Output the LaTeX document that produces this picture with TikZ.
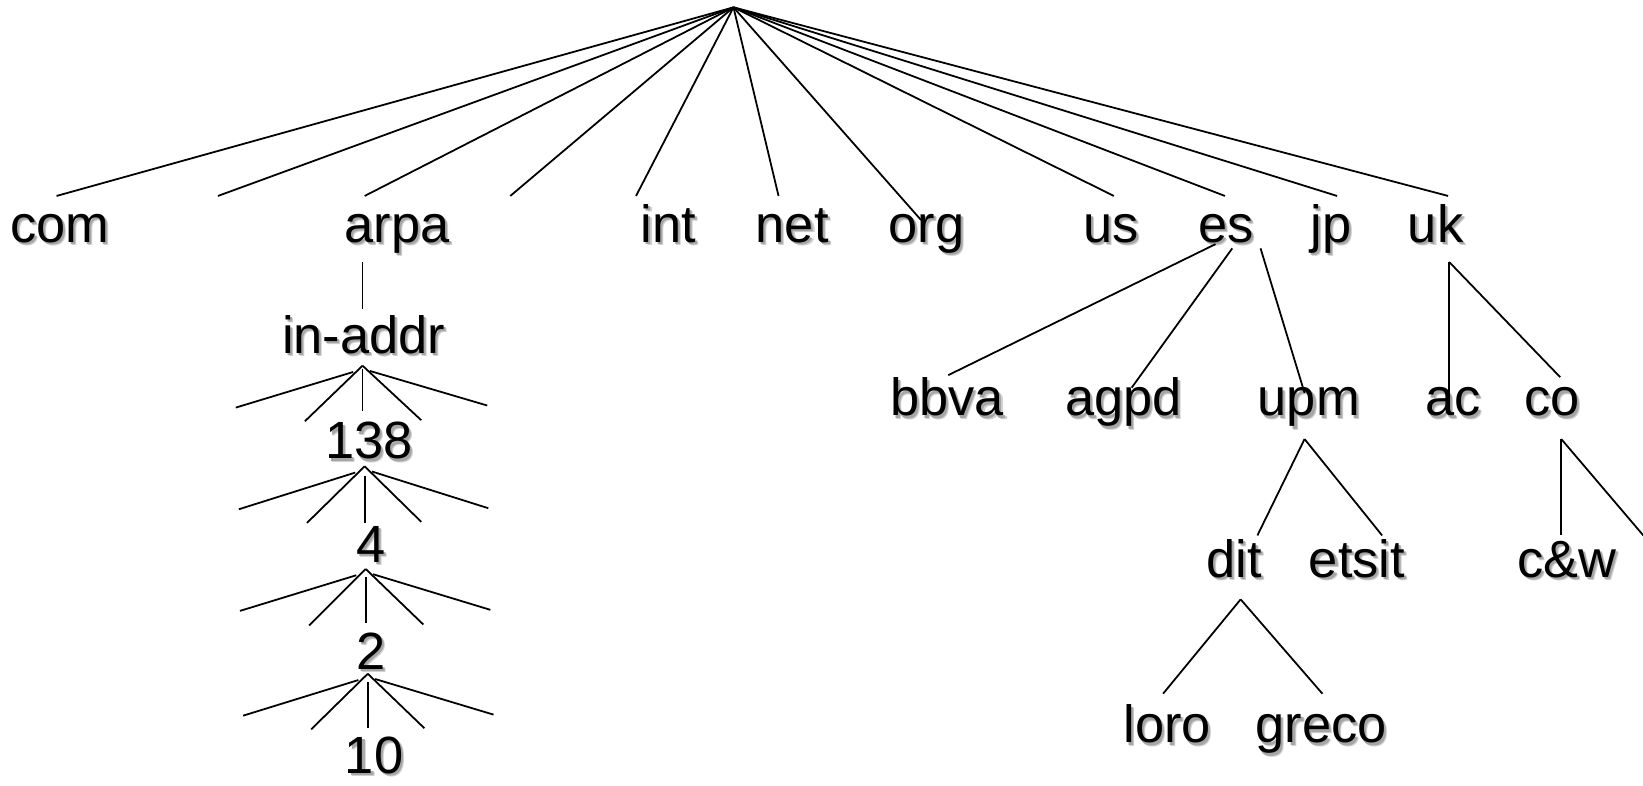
\documentclass[tikz,border=0pt]{standalone}
\usepackage{fontspec}
\setmainfont{Liberation Sans}
\usetikzlibrary{calc}
% text with a soft grey drop shadow (two layers for a slight blur)
\newcommand\shd[1]{%
  \rlap{\kern1.5pt\raisebox{-1.5pt}{\textcolor{black!18}{#1}}}%
  \rlap{\kern1.0pt\raisebox{-1.0pt}{\textcolor{black!35}{#1}}}#1}
\begin{document}
\begin{tikzpicture}[x=0.5pt,y=-0.5pt,
  lbl/.style={anchor=base,inner sep=0pt,font=\fontsize{25}{30}\selectfont},
  edge/.style={line width=0.85pt}]
\useasboundingbox (0,0) rectangle (1568,750);

% ---------- labels ----------
\node[lbl] (com)  at (57,231)   {\shd{com}};
\node[lbl] (arpa) at (379,231)  {\shd{arpa}};
\node[lbl] (int)  at (638,231)  {\shd{int}};
\node[lbl] (net)  at (756,231)  {\shd{net}};
\node[lbl] (org)  at (884,231)  {\shd{org}};
\node[lbl] (us)   at (1060,231) {\shd{us}};
\node[lbl] (es)   at (1170,231) {\shd{es}};
\node[lbl] (jp)   at (1270,231) {\shd{jp}};
\node[lbl] (uk)   at (1370,231) {\shd{uk}};

\node[lbl] (inaddr) at (347,337) {\shd{in-addr}};
\node[lbl] (n138)   at (352,438) {\shd{138}};
\node[lbl] (n4)     at (354,537) {\shd{4}};
\node[lbl] (n2)     at (354,639) {\shd{2}};
\node[lbl] (n10)    at (357,738) {\shd{10}};

\node[lbl] (bbva)  at (904,397)  {\shd{bbva}};
\node[lbl] (agpd)  at (1072,397) {\shd{agpd}};
\node[lbl] (upm)   at (1249,397) {\shd{upm}};
\node[lbl] (ac)    at (1387,397) {\shd{ac}};
\node[lbl] (co)    at (1481,397) {\shd{co}};
\node[lbl] (dit)   at (1178,551) {\shd{dit}};
\node[lbl] (etsit) at (1295,551) {\shd{etsit}};
\node[lbl] (cw)    at (1495,551) {\shd{c\&w}};
\node[lbl] (loro)  at (1114,709) {\shd{loro}};
\node[lbl] (greco) at (1261,709) {\shd{greco}};

% ---------- top level ----------
\coordinate (root) at (700,7);
\coordinate (tcom)  at (54,187);
\coordinate (tx1)   at (208,187);
\coordinate (tarpa) at (348,187);
\coordinate (tx2)   at (487,187);
\coordinate (tint)  at (607,187);
\coordinate (tnet)  at (743,187);
\coordinate (torg)  at (879,210);
\coordinate (tus)   at (1063,187);
\coordinate (tes)   at (1169,187);
\coordinate (tjp)   at (1276,187);
\coordinate (tuk)   at (1382,187);
\foreach \t in {tcom,tx1,tarpa,tx2,tint,tnet,torg,tus,tes,tjp,tuk}
  \draw[edge] (root) -- (\t);

% ---------- arpa branch ----------
\coordinate (arpaB) at (346,250);
\coordinate (inaddrT) at (346,295);
\draw[edge] (arpaB) -- (inaddrT);

% five-line fans under in-addr, 138, 4 and 2
\foreach \ax/\ay/\cy/\cb/\lf/\lfy/\ln/\lny/\rn/\rny/\rf/\rfy/\k in {
   346/349/352/392/225/389/291/402/402/401/465/387/1,
   348/445/454/499/228/486/293/499/402/498/466/485/2,
   349/543/551/595/229/583/295/597/404/596/468/582/3,
   351/643/651/695/232/683/297/696/405/695/471/682/4}{
  \coordinate (fa\k) at (\ax,\ay);
  \coordinate (flf\k) at (\lf,\lfy);
  \coordinate (fln\k) at (\ln,\lny);
  \coordinate (frn\k) at (\rn,\rny);
  \coordinate (frf\k) at (\rf,\rfy);
  \coordinate (fcs\k) at (\ax,\cy);
  \coordinate (fce\k) at (\ax,\cb);
  \draw[edge] ($(fa\k)+(-9,6)$) -- (flf\k);
  \draw[edge] (fa\k) -- (fln\k);
  \draw[edge] (fcs\k) -- (fce\k);
  \draw[edge] (fa\k) -- (frn\k);
  \draw[edge] ($(fa\k)+(7,5)$) -- (frf\k);
}

% ---------- es branch ----------
\coordinate (es1) at (1160,233);
\coordinate (es2) at (1176,237);
\coordinate (es3) at (1203,237);
\coordinate (bbvaT) at (905,358);
\coordinate (agpdT) at (1080,370);
\coordinate (upmT)  at (1245,375);
\draw[edge] (es1) -- (bbvaT);
\draw[edge] (es2) -- (agpdT);
\draw[edge] (es3) -- (upmT);

\coordinate (upmB) at (1245,419);
\coordinate (ditT) at (1200,511);
\coordinate (etsitT) at (1319,511);
\draw[edge] (upmB) -- (ditT);
\draw[edge] (upmB) -- (etsitT);

\coordinate (ditB) at (1184,572);
\coordinate (loroT) at (1110,662);
\coordinate (grecoT) at (1262,662);
\draw[edge] (ditB) -- (loroT);
\draw[edge] (ditB) -- (grecoT);

% ---------- uk branch ----------
\coordinate (ukB) at (1383,250);
\coordinate (acT) at (1383,383);
\coordinate (coT) at (1489,360);
\draw[edge] (ukB) -- (acT);
\draw[edge] (ukB) -- (coT);

\coordinate (coB) at (1490,419);
\coordinate (cwT) at (1490,511);
\coordinate (coX) at (1570,513);
\draw[edge] (coB) -- (cwT);
\draw[edge] (coB) -- (coX);
\end{tikzpicture}
\end{document}
